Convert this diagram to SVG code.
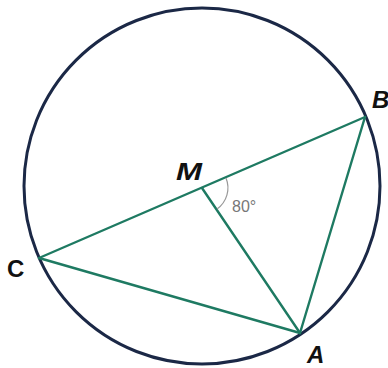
<svg xmlns="http://www.w3.org/2000/svg" width="388" height="368" viewBox="0 0 388 368">
<style>
.seg{stroke:#1e7a62;stroke-width:2.4;fill:none;stroke-linecap:round}
.circ{stroke:#1b2846;stroke-width:3;fill:none}
.lbl{font-family:"Liberation Sans",Arial,sans-serif;font-weight:bold;font-size:24px;fill:#111}
.ang{font-family:"Liberation Sans",Arial,sans-serif;font-size:16px;fill:#777}
</style>
<rect width="388" height="368" fill="#fff"/>
<g id="circle"><circle class="circ" cx="202" cy="186" r="178"/></g>
<g id="connectors">
<line class="seg" x1="39" y1="258" x2="365" y2="117"/>
<line class="seg" x1="39" y1="258" x2="300" y2="333"/>
<line class="seg" x1="365" y1="117" x2="300" y2="333"/>
<line class="seg" x1="202" y1="188" x2="300" y2="333"/>
<path d="M226,178 A26,26 0 0 1 217,209" stroke="#999" stroke-width="1.2" fill="none"/>
</g>
<g id="node-B"><text class="lbl" x="372" y="108" font-style="italic">B</text></g>
<g id="node-M"><text class="lbl" x="176" y="180" font-style="italic" textLength="26" lengthAdjust="spacingAndGlyphs">M</text></g>
<g id="node-C"><text class="lbl" x="7" y="277">C</text></g>
<g id="node-A"><text class="lbl" x="307" y="363" font-style="italic">A</text></g>
<g id="label-80"><text class="ang" x="232" y="212">80°</text></g>
</svg>
